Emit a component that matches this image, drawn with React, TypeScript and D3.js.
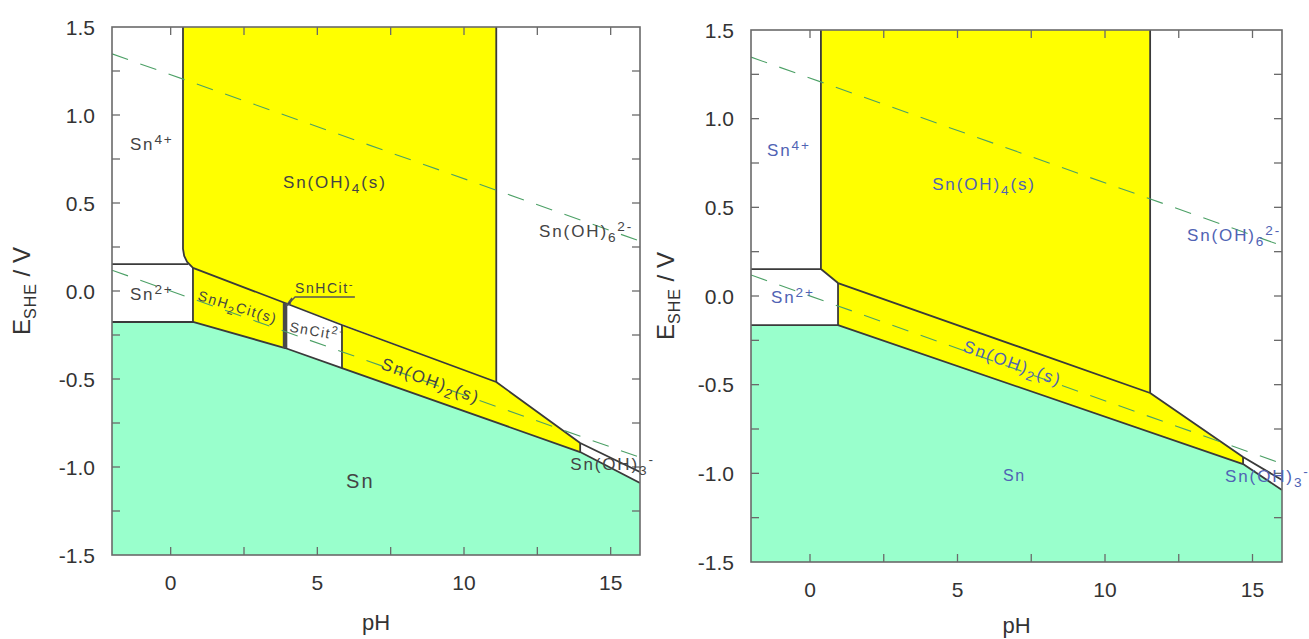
// Pourbaix diagrams for Sn (with / without citrate)
import React from 'react';
import * as d3 from 'd3';

// axes
const phMajor = [0, 5, 10, 15];
const phMinor = [0, 2.5, 5, 7.5, 10, 12.5, 15];
const eMajor = [1.5, 1.0, 0.5, 0.0, -0.5, -1.0, -1.5];
const eMinor = [1.25, 1.0, 0.75, 0.5, 0.25, 0.0, -0.25, -0.5, -0.75, -1.0, -1.25];
const phDomain = [-2, 16];
const eDomain = [-1.5, 1.5];

// water stability lines (pH ends)
const waterPH = [-2, 16];
const o2Line = waterPH.map((p) => [p, 1.229 - 0.0591 * p]);
const h2Line = waterPH.map((p) => [p, -0.0591 * p]);

// left diagram (citrate)
const leftSnOH4 = [[0.42, 1.5], [11.1, 1.5], [11.1, -0.517], [0.76, 0.131], [0.56, 0.165], [0.46, 0.2], [0.42, 0.24]];
const leftSnH2Cit = [[0.76, 0.131], [3.9, -0.068], [3.9, -0.324], [0.76, -0.176]];
const leftSnOH2 = [[5.84, -0.193], [11.1, -0.517], [13.96, -0.864], [13.96, -0.915], [5.84, -0.438]];
const leftSn = [[-2, -0.176], [0.76, -0.176], [3.9, -0.324], [5.84, -0.438], [13.96, -0.915], [16, -1.091], [16, -1.5], [-2, -1.5]];
const leftLines = [
  [[0.42, 1.5], [0.42, 0.24], [0.46, 0.2], [0.56, 0.165], [0.76, 0.131], [3.9, -0.068], [5.84, -0.193], [11.1, -0.517], [13.96, -0.864], [16, -1.028]],
  [[-2, 0.153], [0.6, 0.153]],
  [[0.76, 0.131], [0.76, -0.176]],
  [[-2, -0.176], [0.76, -0.176], [3.9, -0.324], [5.84, -0.438], [13.96, -0.915], [16, -1.091]],
  [[11.1, 1.5], [11.1, -0.517]],
  [[13.96, -0.864], [13.96, -0.915]],
  [[5.84, -0.193], [5.84, -0.438]],
];
const leftSnHCit = [[3.9, -0.068], [3.9, -0.324]];

// right diagram (no citrate)
const rightSnOH4 = [[0.37, 1.5], [11.53, 1.5], [11.53, -0.547], [0.95, 0.073], [0.37, 0.152]];
const rightSnOH2 = [[0.95, 0.073], [11.53, -0.547], [14.68, -0.908], [14.68, -0.948], [0.95, -0.164]];
const rightSn = [[-2, -0.164], [0.95, -0.164], [14.68, -0.948], [16, -1.094], [16, -1.5], [-2, -1.5]];
const rightLines = [
  [[0.37, 1.5], [0.37, 0.152], [0.95, 0.073], [11.53, -0.547], [14.68, -0.908], [16, -1.038]],
  [[-2, 0.152], [0.37, 0.152]],
  [[0.95, 0.073], [0.95, -0.164]],
  [[-2, -0.164], [0.95, -0.164], [14.68, -0.948], [16, -1.094]],
  [[11.53, 1.5], [11.53, -0.547]],
  [[14.68, -0.908], [14.68, -0.948]],
];

// species labels: [pH, E, rotation, text, size]  (_{x} sub, ^{x} sup)
const leftLabels: [number, number, number, string, number?][] = [
  [-1.39, 0.8, 0, 'Sn^{4+}'],
  [3.83, 0.585, 0, 'Sn(OH)_{4}(s)'],
  [12.56, 0.307, 0, 'Sn(OH)_{6}^{2-}'],
  [-1.39, -0.051, 0, 'Sn^{2+}'],
  [0.9, -0.05, 17, 'SnH_{2}Cit(s)', 14],
  [4.24, -0.011, 0, 'SnHCit^{-}', 14],
  [4.03, -0.23, 10, 'SnCit^{2-}', 14],
  [7.14, -0.44, 20, 'Sn(OH)_{2}(s)'],
  [13.62, -1.017, 0, 'Sn(OH)_{3}^{-}'],
  [5.98, -1.12, 0, 'Sn', 20],
];
const rightLabels: [number, number, number, string, number?][] = [
  [-1.46, 0.789, 0, 'Sn^{4+}'],
  [4.14, 0.598, 0, 'Sn(OH)_{4}(s)'],
  [12.78, 0.31, 0, 'Sn(OH)_{6}^{2-}'],
  [-1.32, -0.04, 0, 'Sn^{2+}'],
  [5.15, -0.31, 20, 'Sn(OH)_{2}(s)'],
  [14.07, -1.049, 0, 'Sn(OH)_{3}^{-}'],
  [6.54, -1.044, 0, 'Sn', 16],
];

const FONT = 'Liberation Sans, Arial, sans-serif';
const YELLOW = '#ffff00';
const MINT = '#99ffcc';
const LINE = '#3a3a3a';
const AXIS = '#6a6a6a';
const WATER = '#4ca066';

const fmtE = (e: number) => e.toFixed(1).replace('−', '-');

function parseLabel(s: string) {
  const parts: {t: string, k: string}[] = [];
  const re = /([_^])\{([^}]*)\}|([^_^]+)/g;
  let m;
  while ((m = re.exec(s))) {
    if (m[3]) parts.push({t: m[3], k: ''});
    else parts.push({t: m[2], k: m[1] === '_' ? 'sub' : 'sup'});
  }
  return parts;
}

function RichText({x, y, rot, text, size, color}) {
  const parts = parseLabel(text);
  let shift = 0;
  return (
    <text x={x} y={y} transform={rot ? `rotate(${rot},${x},${y})` : undefined}
      fontFamily={FONT} fontSize={size} fill={color} letterSpacing={size * 0.11}>
      {parts.map((p, i) => {
        let dy = 0;
        if (p.k === 'sub') dy = size * 0.3 - shift;
        else if (p.k === 'sup') dy = -size * 0.38 - shift;
        else dy = -shift;
        shift += dy;
        return (
          <tspan key={i} dy={dy} fontSize={p.k ? size * 0.8 : size}>{p.t}</tspan>
        );
      })}
    </text>
  );
}

function Diagram({frame, fills, lines, labels, labelColor, snHCit, tickDy, phLabelY, eLabelX}) {
  const {left, right, top, bottom} = frame;
  const x = d3.scaleLinear().domain(phDomain).range([left, right]);
  const y = d3.scaleLinear().domain(eDomain).range([bottom, top]);
  const line = d3.line().x((d) => x(d[0])).y((d) => y(d[1]));
  const poly = (pts) => line(pts) + 'Z';
  const tl = 8;
  const midY = (top + bottom) / 2;

  return (
    <g>
      <defs>
        <clipPath id={`clip${left}`}>
          <rect x={left} y={top} width={right - left} height={bottom - top} />
        </clipPath>
      </defs>
      <g clipPath={`url(#clip${left})`}>
        {fills.map((f, i) => (
          <path key={i} d={poly(f.pts)} fill={f.color} stroke="none" />
        ))}
        {lines.map((l, i) => (
          <path key={i} d={line(l)} fill="none" stroke={LINE} strokeWidth={1.8} strokeLinejoin="round" />
        ))}
        {snHCit && (
          <path d={line(snHCit)} fill="none" stroke="#4a4a4a" strokeWidth={4.5} />
        )}
        {[o2Line, h2Line].map((l, i) => (
          <path key={i} d={line(l)} fill="none" stroke={WATER} strokeWidth={1.1} strokeDasharray="17,13" />
        ))}
      </g>

      {/* frame & ticks */}
      <rect x={left} y={top} width={right - left} height={bottom - top} fill="none" stroke={AXIS} strokeWidth={1.6} />
      {phMinor.map((p) => (
        <g key={`px${p}`} stroke={AXIS} strokeWidth={1.3}>
          <line x1={x(p)} x2={x(p)} y1={bottom} y2={bottom - tl} />
          <line x1={x(p)} x2={x(p)} y1={top} y2={top + tl} />
        </g>
      ))}
      {eMinor.map((e) => (
        <g key={`ey${e}`} stroke={AXIS} strokeWidth={1.3}>
          <line x1={left} x2={left + tl} y1={y(e)} y2={y(e)} />
          <line x1={right} x2={right - tl} y1={y(e)} y2={y(e)} />
        </g>
      ))}
      {phMajor.map((p) => (
        <text key={`pl${p}`} x={x(p)} y={bottom + tickDy} textAnchor="middle"
          fontFamily={FONT} fontSize={21} fill="#333">{p}</text>
      ))}
      {eMajor.map((e) => (
        <text key={`el${e}`} x={left - 17} y={y(e)} dy="0.36em" textAnchor="end"
          fontFamily={FONT} fontSize={21} fill="#333">{fmtE(e)}</text>
      ))}

      {/* axis titles */}
      <text x={(left + right) / 2} y={phLabelY} textAnchor="middle" fontFamily={FONT} fontSize={22} fill="#333">pH</text>
      <text transform={`translate(${eLabelX},${midY}) rotate(-90)`} textAnchor="middle"
        fontFamily={FONT} fontSize={24} fill="#333">
        <tspan>E</tspan>
        <tspan dy={6} fontSize={16} letterSpacing={1}>SHE</tspan>
        <tspan dy={-6}>{'  / V'}</tspan>
      </text>

      {/* species labels */}
      {labels.map((l, i) => (
        <RichText key={i} x={x(l[0])} y={y(l[1])} rot={l[2]} text={l[3]} size={l[4] || 17} color={labelColor} />
      ))}
      {snHCit && (
        <g stroke="#555" strokeWidth={1.3} fill="none">
          <path d={line([[6.28, -0.034], [4.24, -0.034], [4.0, -0.075]])} />
          <path d={`M${x(3.93)},${y(-0.085)} l6,-8 l-2,6 z`} fill="#333" />
        </g>
      )}
    </g>
  );
}

export default function App() {
  return (
    <svg width={1309} height={639} style={{position: 'absolute', left: 0, top: 0, background: '#fff'}}>
      <Diagram
        frame={{left: 112, right: 640, top: 27, bottom: 555}}
        fills={[
          {pts: leftSnOH4, color: YELLOW},
          {pts: leftSnH2Cit, color: YELLOW},
          {pts: leftSnOH2, color: YELLOW},
          {pts: leftSn, color: MINT},
        ]}
        lines={leftLines}
        labels={leftLabels}
        labelColor="#444"
        snHCit={leftSnHCit}
        tickDy={35}
        phLabelY={630}
        eLabelX={30}
      />
      <Diagram
        frame={{left: 751, right: 1282, top: 30, bottom: 562}}
        fills={[
          {pts: rightSnOH4, color: YELLOW},
          {pts: rightSnOH2, color: YELLOW},
          {pts: rightSn, color: MINT},
        ]}
        lines={rightLines}
        labels={rightLabels}
        labelColor="#5063b4"
        snHCit={null}
        tickDy={35}
        phLabelY={633}
        eLabelX={674}
      />
    </svg>
  );
}
